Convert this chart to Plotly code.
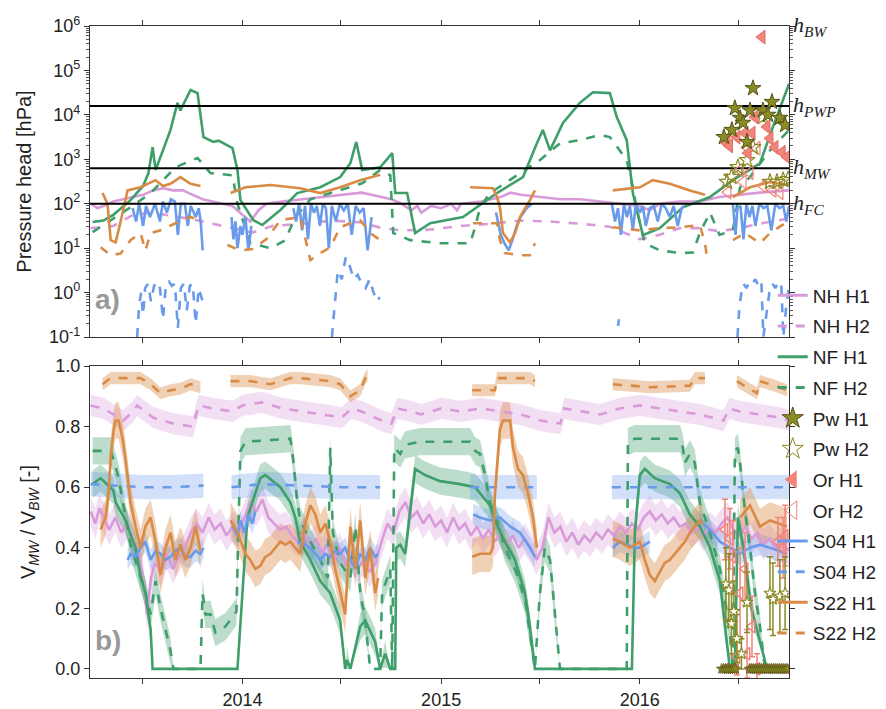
import plotly.graph_objects as go
from datetime import datetime, timedelta

# ---------------- DATA (time in decimal years) ----------------
X_START, X_END = "2013-03-27", "2016-10-01"
X_TICKS = ["2013-07-01", "2014-01-01", "2014-07-01", "2015-01-01", "2015-07-01", "2016-01-01", "2016-07-01"]
X_TICKTEXT = ["", "2014", "", "2015", "", "2016", ""]
Y_TOP_TICKS = [-1, 0, 1, 2, 3, 4, 5, 6]

# reference heads (pF = log10 hPa)
REF_PF = [2.0, 2.8, 4.2]
REF_LABELS = ["FC", "MW", "PWP", "BW"]
REF_LABEL_PF = [2.0, 2.8, 4.2, 6.0]

# ---- panel a): pressure head as pF ----
NH_H1_TOP = [(2013.236, 2.0), (2013.27, 1.9), (2013.30, 1.95), (2013.35, 2.05), (2013.40, 2.1), (2013.45, 2.15), (2013.50, 2.2),
             (2013.55, 2.3), (2013.60, 2.35), (2013.65, 2.3), (2013.70, 2.3), (2013.75, 2.2), (2013.80, 2.1), (2013.85, 2.05),
             (2013.90, 2.0), (2013.95, 1.95), (2014.00, 1.75), (2014.04, 1.6), (2014.08, 1.85), (2014.12, 2.0), (2014.20, 2.05),
             (2014.30, 2.1), (2014.40, 2.15), (2014.50, 2.2), (2014.60, 2.25), (2014.70, 2.15), (2014.75, 2.1), (2014.80, 2.0),
             (2014.85, 1.85), (2014.88, 1.95), (2014.90, 1.8), (2014.95, 1.95), (2015.00, 1.9), (2015.05, 2.0), (2015.08, 1.85),
             (2015.10, 2.0), (2015.20, 2.05), (2015.30, 2.15), (2015.35, 2.25), (2015.40, 2.2), (2015.50, 2.15), (2015.60, 2.1),
             (2015.70, 2.1), (2015.80, 2.05), (2015.90, 2.0), (2016.00, 1.95), (2016.05, 1.85), (2016.10, 2.0), (2016.20, 2.05),
             (2016.30, 2.05), (2016.40, 2.15), (2016.50, 2.2), (2016.60, 2.25), (2016.749, 2.3)]
NH_H2_TOP = [(2013.236, 1.45), (2013.35, 1.5), (2013.45, 1.75), (2013.55, 1.8), (2013.65, 1.72), (2013.75, 1.65), (2013.85, 1.55),
             (2013.95, 1.45), (2014.05, 1.35), (2014.15, 1.5), (2014.30, 1.55), (2014.45, 1.62), (2014.60, 1.58), (2014.70, 1.45),
             (2014.80, 1.4), (2014.95, 1.42), (2015.10, 1.5), (2015.25, 1.55), (2015.40, 1.62), (2015.55, 1.6), (2015.70, 1.55),
             (2015.85, 1.48), (2015.95, 1.3), (2016.00, 1.2), (2016.10, 1.3), (2016.20, 1.45), (2016.30, 1.45), (2016.40, 1.38),
             (2016.50, 1.45), (2016.60, 1.55), (2016.749, 1.67)]
NF_H1_TOP = [(2013.246, 1.59), (2013.30, 1.62), (2013.35, 1.75), (2013.437, 2.08), (2013.50, 2.4), (2013.527, 2.69), (2013.548, 3.27),
             (2013.563, 2.76), (2013.60, 3.2), (2013.638, 3.66), (2013.673, 4.27), (2013.688, 4.1), (2013.739, 4.56), (2013.774, 4.49),
             (2013.804, 3.5), (2013.854, 3.39), (2013.88, 3.42), (2013.95, 3.25), (2013.975, 2.76), (2013.990, 2.08), (2014.055, 1.63),
             (2014.100, 1.52), (2014.191, 1.86), (2014.276, 2.24), (2014.392, 2.37), (2014.492, 2.6), (2014.543, 2.91), (2014.573, 3.39),
             (2014.603, 2.76), (2014.693, 2.82), (2014.754, 3.14), (2014.769, 2.24), (2014.829, 2.24), (2014.869, 1.34), (2014.945, 1.56),
             (2015.110, 1.7), (2015.281, 2.24), (2015.412, 2.6), (2015.482, 3.36), (2015.512, 3.66), (2015.548, 3.2), (2015.613, 3.82),
             (2015.698, 4.27), (2015.764, 4.51), (2015.849, 4.49), (2015.884, 3.95), (2015.934, 3.43), (2015.965, 2.24), (2016.015, 1.29),
             (2016.100, 1.45), (2016.216, 1.92), (2016.352, 2.15), (2016.467, 2.53), (2016.603, 2.91), (2016.668, 3.73), (2016.749, 4.7)]
NF_H2_TOP = [(2013.246, 1.36), (2013.437, 1.92), (2013.538, 2.24), (2013.663, 2.82), (2013.774, 3.03), (2013.839, 2.69), (2013.950, 2.64),
             (2013.975, 2.0), (2014.040, 1.11), (2014.141, 1.0), (2014.216, 1.18), (2014.266, 1.7), (2014.342, 2.1), (2014.492, 2.3),
             (2014.603, 2.46), (2014.693, 2.76), (2014.744, 2.64), (2014.759, 1.34), (2014.844, 1.18), (2014.995, 1.11), (2015.146, 1.11),
             (2015.171, 1.47), (2015.196, 1.92), (2015.246, 2.24), (2015.397, 2.69), (2015.497, 2.98), (2015.598, 3.36), (2015.698, 3.43),
             (2015.799, 3.55), (2015.849, 3.5), (2015.899, 3.2), (2015.934, 2.98), (2015.965, 2.37), (2015.985, 1.86), (2016.025, 1.11),
             (2016.100, 0.95), (2016.201, 0.89), (2016.266, 0.9), (2016.301, 1.34), (2016.352, 1.8), (2016.40, 1.3), (2016.467, 1.4),
             (2016.503, 2.37), (2016.553, 2.6), (2016.653, 3.2), (2016.749, 3.66)]
S22_H1_TOP = [(2013.296, 2.24), (2013.321, 2.0), (2013.337, 1.18), (2013.362, 1.13), (2013.387, 1.6), (2013.422, 2.3), (2013.487, 2.37),
              (2013.563, 2.53), (2013.60, 2.4), (2013.638, 2.45), (2013.688, 2.6), (2013.739, 2.45), (2013.789, 2.4), None,
              (2013.940, 2.24), (2014.015, 2.37), (2014.141, 2.42), (2014.291, 2.35), (2014.392, 2.24), (2014.492, 2.37), (2014.593, 2.53),
              (2014.693, 2.65), None,
              (2015.146, 2.37), (2015.261, 2.35), (2015.281, 2.15), (2015.296, 1.92), (2015.311, 1.34), (2015.347, 1.13), (2015.372, 1.34),
              (2015.397, 1.7), (2015.447, 2.08), (2015.472, 2.3), None,
              (2015.864, 2.3), (2016.000, 2.37), (2016.065, 2.53), (2016.151, 2.45), (2016.251, 2.3), (2016.301, 2.24), (2016.327, 2.2), None,
              (2016.467, 2.15), (2016.553, 2.37), (2016.653, 2.49), (2016.749, 2.42)]
S22_H2_TOP = [(2013.286, 1.02), (2013.337, 0.84), (2013.387, 0.88), (2013.437, 1.18), (2013.487, 1.34), (2013.512, 0.95), (2013.538, 1.34),
              (2013.588, 1.4), (2013.663, 1.56), (2013.739, 1.7), (2013.789, 1.63), None,
              (2013.924, 1.07), (2013.990, 0.95), (2014.050, 0.98), (2014.120, 1.2), (2014.191, 1.63), (2014.291, 1.7), (2014.342, 0.73),
              (2014.392, 0.89), (2014.442, 1.02), (2014.492, 1.47), (2014.543, 1.56), (2014.593, 1.63), (2014.643, 1.34), (2014.693, 1.18), None,
              (2015.161, 1.56), (2015.281, 1.56), (2015.296, 1.18), (2015.321, 0.89), (2015.397, 0.84), (2015.447, 0.84), (2015.472, 1.11), None,
              (2015.864, 1.47), (2016.000, 1.4), (2016.100, 1.45), (2016.201, 1.47), (2016.301, 1.52), (2016.327, 1.11), (2016.337, 0.8), None,
              (2016.467, 1.18), (2016.528, 1.34), (2016.603, 1.11), (2016.653, 1.34), (2016.739, 1.59)]
S04_H1_TOP = [(2013.447, 1.9), (2013.465, 1.6), (2013.48, 2.0), (2013.50, 1.5), (2013.515, 1.95), (2013.535, 1.7), (2013.56, 2.0),
              (2013.585, 1.6), (2013.60, 2.05), (2013.62, 1.8), (2013.64, 2.1), (2013.66, 2.05), (2013.675, 1.3), (2013.69, 2.0),
              (2013.71, 2.0), (2013.725, 1.5), (2013.74, 1.95), (2013.765, 1.7), (2013.78, 1.9), (2013.79, 1.6), (2013.80, 0.95), None,
              (2013.945, 1.7), (2013.955, 1.2), (2013.965, 1.6), (2013.975, 1.0), (2013.99, 1.5), (2014.0, 1.3), (2014.015, 1.7),
              (2014.03, 0.95), (2014.045, 1.5), None,
              (2014.256, 1.9), (2014.27, 1.6), (2014.285, 2.0), (2014.30, 1.4), (2014.315, 1.95), (2014.33, 1.2), (2014.345, 2.0),
              (2014.36, 1.8), (2014.375, 1.95), (2014.39, 1.5), (2014.405, 2.0), (2014.42, 1.9), (2014.435, 1.0), (2014.45, 1.95),
              (2014.47, 1.6), (2014.49, 2.0), (2014.51, 1.85), (2014.53, 2.0), (2014.55, 1.3), (2014.57, 1.95), (2014.59, 1.8),
              (2014.61, 1.9), (2014.63, 0.95), (2014.65, 1.7), None,
              (2015.276, 1.8), (2015.30, 1.3), (2015.32, 1.1), (2015.34, 0.95), (2015.36, 1.2), (2015.38, 1.5), (2015.40, 1.7),
              (2015.43, 1.9), (2015.457, 2.0), None,
              (2015.859, 2.0), (2015.875, 1.6), (2015.89, 1.9), (2015.905, 1.3), (2015.92, 2.0), (2015.935, 1.7), (2015.95, 1.95),
              (2015.965, 1.4), (2015.98, 2.0), (2016.0, 1.8), (2016.015, 1.95), (2016.03, 1.5), (2016.05, 1.9), (2016.07, 1.95),
              (2016.09, 1.6), (2016.11, 2.0), (2016.13, 1.9), (2016.15, 1.7), (2016.17, 1.95), (2016.19, 1.5), (2016.21, 1.9),
              (2016.221, 1.95), None,
              (2016.467, 2.0), (2016.48, 1.3), (2016.49, 1.9), (2016.505, 1.95), (2016.52, 1.2), (2016.535, 2.0), (2016.55, 1.7),
              (2016.565, 1.95), (2016.58, 1.5), (2016.60, 2.0), (2016.62, 1.9), (2016.64, 1.95), (2016.66, 1.4), (2016.68, 2.0),
              (2016.70, 1.9), (2016.72, 1.95), (2016.735, 1.6), (2016.749, 1.95)]
S04_H2_TOP = [(2013.47, -1.0), (2013.48, -0.3), (2013.49, 0.0), (2013.50, -0.5), (2013.51, 0.1), (2013.525, 0.2), (2013.54, -0.2),
              (2013.555, 0.15), (2013.57, 0.25), (2013.585, 0.1), (2013.60, -0.6), (2013.615, 0.2), (2013.63, 0.25), (2013.645, 0.15),
              (2013.66, 0.2), (2013.675, -0.8), (2013.69, 0.1), (2013.705, 0.2), (2013.72, -0.4), (2013.735, 0.15), (2013.75, 0.2),
              (2013.765, -0.7), (2013.78, 0.1), (2013.80, -0.2), None,
              (2014.45, -1.0), (2014.46, -0.5), (2014.47, 0.0), (2014.48, 0.5), (2014.50, 0.3), (2014.52, 0.8), (2014.54, 0.6),
              (2014.56, 0.3), (2014.58, 0.4), (2014.60, 0.2), (2014.62, 0.1), (2014.64, 0.3), (2014.66, 0.0), (2014.68, -0.2),
              (2014.69, -0.1), None,
              (2015.89, -0.75), (2015.895, -0.6), None,
              (2016.49, -1.0), (2016.50, -0.3), (2016.51, 0.0), (2016.52, 0.2), (2016.535, 0.1), (2016.55, 0.25), (2016.565, 0.2),
              (2016.58, 0.3), (2016.595, 0.15), (2016.61, 0.25), (2016.62, -1.0), (2016.635, -0.5), (2016.65, 0.0), (2016.665, 0.2),
              (2016.68, 0.1), (2016.695, 0.25), (2016.71, 0.2), (2016.72, -1.0), (2016.735, -0.3), (2016.749, 0.15)]
PW_H1_TOP = [(2016.568, 4.6), (2016.477, 4.15), (2016.503, 3.93), (2016.518, 3.82), (2016.462, 3.66), (2016.422, 3.5), (2016.553, 4.1),
             (2016.618, 4.1), (2016.663, 4.29), (2016.643, 4.0), (2016.703, 3.93), (2016.729, 3.77), (2016.538, 3.39)]
PW_H2_TOP = [(2016.437, 2.49), (2016.492, 2.82), (2016.538, 2.98), (2016.568, 3.27), (2016.618, 3.95), (2016.653, 2.49), (2016.688, 2.49),
             (2016.719, 2.53), (2016.744, 2.55), (2016.46, 2.6)]
OR_H1_TOP = [(2016.613, 5.75), (2016.578, 3.95), (2016.638, 3.73), (2016.437, 3.36), (2016.487, 3.5), (2016.528, 3.59), (2016.563, 3.59),
             (2016.653, 3.47), (2016.678, 3.27), (2016.714, 3.16), (2016.739, 3.05), (2016.543, 3.14), (2016.45, 3.3)]
OR_H2_TOP = [(2016.538, 3.27), (2016.503, 2.76), (2016.553, 2.7), (2016.518, 2.49), (2016.442, 2.26), (2016.668, 2.3), (2016.703, 2.25),
             (2016.588, 3.25), (2016.62, 2.4)]

# ---- panel b): V_MW / V_BW ----
NH_H1_BOT = [(2013.236, 0.52), (2013.26, 0.48), (2013.28, 0.53), (2013.30, 0.50), (2013.33, 0.46), (2013.36, 0.50), (2013.39, 0.45),
             (2013.42, 0.48), (2013.45, 0.42), (2013.48, 0.38), (2013.50, 0.30), (2013.52, 0.18), (2013.54, 0.30), (2013.56, 0.35),
             (2013.59, 0.32), (2013.62, 0.38), (2013.65, 0.33), (2013.68, 0.37), (2013.71, 0.40), (2013.74, 0.45), (2013.77, 0.48),
             (2013.80, 0.45), (2013.83, 0.50), (2013.86, 0.46), (2013.89, 0.48), (2013.92, 0.44), (2013.95, 0.47), (2013.98, 0.45),
             (2014.01, 0.50), (2014.04, 0.55), (2014.07, 0.52), (2014.10, 0.56), (2014.13, 0.50), (2014.16, 0.48), (2014.19, 0.46),
             (2014.22, 0.47), (2014.25, 0.44), (2014.28, 0.42), (2014.31, 0.45), (2014.34, 0.40), (2014.37, 0.43), (2014.40, 0.38),
             (2014.43, 0.42), (2014.46, 0.36), (2014.49, 0.40), (2014.52, 0.34), (2014.55, 0.38), (2014.58, 0.33), (2014.61, 0.36),
             (2014.64, 0.32), (2014.67, 0.35), (2014.70, 0.42), (2014.73, 0.48), (2014.76, 0.45), (2014.79, 0.52), (2014.82, 0.55),
             (2014.85, 0.50), (2014.88, 0.52), (2014.91, 0.48), (2014.94, 0.51), (2014.97, 0.47), (2015.00, 0.49), (2015.03, 0.45),
             (2015.06, 0.50), (2015.09, 0.46), (2015.12, 0.48), (2015.15, 0.44), (2015.18, 0.47), (2015.21, 0.43), (2015.24, 0.46),
             (2015.27, 0.42), (2015.30, 0.45), (2015.33, 0.41), (2015.36, 0.44), (2015.39, 0.40), (2015.42, 0.43), (2015.45, 0.40),
             (2015.48, 0.36), (2015.51, 0.40), (2015.54, 0.50), (2015.57, 0.45), (2015.60, 0.47), (2015.63, 0.42), (2015.66, 0.45),
             (2015.69, 0.41), (2015.72, 0.44), (2015.75, 0.42), (2015.78, 0.45), (2015.81, 0.43), (2015.84, 0.46), (2015.87, 0.44),
             (2015.90, 0.47), (2015.93, 0.45), (2015.96, 0.48), (2015.99, 0.46), (2016.02, 0.50), (2016.05, 0.52), (2016.08, 0.49),
             (2016.11, 0.51), (2016.14, 0.48), (2016.17, 0.50), (2016.20, 0.47), (2016.23, 0.48), (2016.26, 0.45), (2016.29, 0.47),
             (2016.32, 0.44), (2016.35, 0.47), (2016.38, 0.45), (2016.41, 0.48), (2016.44, 0.50), (2016.47, 0.46), (2016.50, 0.44),
             (2016.53, 0.47), (2016.56, 0.43), (2016.59, 0.45), (2016.62, 0.41), (2016.65, 0.43), (2016.68, 0.40), (2016.71, 0.42),
             (2016.749, 0.39)]
NH_H2_BOT = [(2013.236, 0.87), (2013.30, 0.86), (2013.35, 0.84), (2013.40, 0.82), (2013.45, 0.85), (2013.47, 0.87), (2013.55, 0.83),
             (2013.65, 0.81), (2013.75, 0.80), (2013.78, 0.87), (2013.85, 0.86), (2013.95, 0.85), (2014.00, 0.87), (2014.10, 0.88),
             (2014.20, 0.86), (2014.30, 0.85), (2014.40, 0.84), (2014.50, 0.83), (2014.55, 0.86), (2014.60, 0.85), (2014.70, 0.82),
             (2014.75, 0.81), (2014.78, 0.86), (2014.85, 0.85), (2014.90, 0.84), (2015.00, 0.86), (2015.10, 0.85), (2015.20, 0.86),
             (2015.30, 0.85), (2015.40, 0.84), (2015.50, 0.82), (2015.60, 0.81), (2015.62, 0.86), (2015.70, 0.85), (2015.80, 0.84),
             (2015.90, 0.86), (2016.00, 0.87), (2016.10, 0.86), (2016.20, 0.85), (2016.30, 0.84), (2016.42, 0.82), (2016.45, 0.86),
             (2016.50, 0.85), (2016.60, 0.84), (2016.70, 0.83), (2016.749, 0.82)]
NF_H1_BOT = [(2013.246, 0.61), (2013.286, 0.63), (2013.35, 0.59), (2013.362, 0.55), (2013.412, 0.49), (2013.462, 0.40), (2013.487, 0.31),
             (2013.512, 0.25), (2013.538, 0.13), (2013.548, 0.0), (2013.975, 0.0), (2014.025, 0.50), (2014.065, 0.58), (2014.090, 0.63),
             (2014.115, 0.64), (2014.191, 0.60), (2014.241, 0.55), (2014.266, 0.50), (2014.291, 0.42), (2014.342, 0.36), (2014.392, 0.29),
             (2014.442, 0.25), (2014.492, 0.16), (2014.517, 0.0), (2014.527, 0.03), (2014.543, 0.0), (2014.593, 0.14), (2014.618, 0.16),
             (2014.668, 0.09), (2014.693, 0.0), (2014.718, 0.05), (2014.744, 0.0), (2014.769, 0.0), (2014.774, 0.40), (2014.794, 0.41),
             (2014.819, 0.38), (2014.844, 0.52), (2014.869, 0.66), (2014.919, 0.64), (2014.995, 0.62), (2015.095, 0.61), (2015.171, 0.60),
             (2015.196, 0.58), (2015.246, 0.54), (2015.271, 0.49), (2015.321, 0.42), (2015.372, 0.36), (2015.422, 0.25), (2015.447, 0.14),
             (2015.472, 0.0), (2015.960, 0.0), (2015.975, 0.45), (2016.000, 0.64), (2016.025, 0.66), (2016.075, 0.63), (2016.151, 0.61),
             (2016.201, 0.58), (2016.251, 0.51), (2016.301, 0.47), (2016.352, 0.40), (2016.402, 0.29), (2016.427, 0.14), (2016.452, 0.0),
             (2016.477, 0.0), (2016.492, 0.50), (2016.52, 0.40), (2016.56, 0.20), (2016.638, 0.0), (2016.749, 0.0)]
NF_H2_BOT = [(2013.246, 0.72), (2013.337, 0.72), (2013.352, 0.69), (2013.377, 0.63), (2013.437, 0.41), (2013.512, 0.25), (2013.538, 0.18),
             (2013.563, 0.29), (2013.588, 0.20), (2013.638, 0.06), (2013.653, 0.0), (2013.789, 0.0), (2013.799, 0.25), (2013.814, 0.18),
             (2013.839, 0.18), (2013.864, 0.12), (2013.889, 0.13), (2013.914, 0.14), (2013.950, 0.17), (2013.970, 0.19), (2013.980, 0.47),
             (2013.990, 0.72), (2014.015, 0.75), (2014.241, 0.76), (2014.256, 0.69), (2014.276, 0.55), (2014.291, 0.49), (2014.342, 0.42),
             (2014.392, 0.36), (2014.430, 0.30), (2014.442, 0.73), (2014.455, 0.45), (2014.492, 0.35), (2014.543, 0.30), (2014.568, 0.47),
             (2014.593, 0.25), (2014.618, 0.16), (2014.643, 0.0), (2014.693, 0.0), (2014.703, 0.25), (2014.744, 0.33), (2014.754, 0.0),
             (2014.764, 0.73), (2014.794, 0.71), (2014.819, 0.74), (2014.894, 0.75), (2015.146, 0.75), (2015.171, 0.72), (2015.196, 0.71),
             (2015.221, 0.64), (2015.246, 0.55), (2015.281, 0.49), (2015.321, 0.40), (2015.372, 0.33), (2015.422, 0.23), (2015.447, 0.12),
             (2015.472, 0.0), (2015.497, 0.25), (2015.522, 0.40), (2015.548, 0.36), (2015.573, 0.18), (2015.598, 0.0), (2015.934, 0.0),
             (2015.940, 0.75), (2015.975, 0.76), (2016.201, 0.76), (2016.216, 0.73), (2016.226, 0.68), (2016.251, 0.71), (2016.276, 0.68),
             (2016.301, 0.55), (2016.352, 0.45), (2016.402, 0.33), (2016.427, 0.23), (2016.452, 0.12), (2016.467, 0.0), (2016.477, 0.72),
             (2016.492, 0.73), (2016.503, 0.68), (2016.528, 0.52), (2016.553, 0.40), (2016.578, 0.25), (2016.603, 0.14), (2016.628, 0.0),
             (2016.749, 0.0)]
S04_H1_BOT = [(2013.422, 0.36), (2013.437, 0.38), (2013.462, 0.37), (2013.487, 0.40), (2013.512, 0.42), (2013.538, 0.36), (2013.563, 0.39),
              (2013.588, 0.38), (2013.613, 0.36), (2013.638, 0.37), (2013.663, 0.39), (2013.688, 0.40), (2013.713, 0.37), (2013.739, 0.37),
              (2013.764, 0.39), (2013.789, 0.38), (2013.804, 0.40), None,
              (2013.950, 0.47), (2013.975, 0.44), (2013.990, 0.49), (2014.010, 0.45), (2014.030, 0.51), (2014.050, 0.48), (2014.065, 0.52), None,
              (2014.276, 0.42), (2014.316, 0.41), (2014.342, 0.40), (2014.367, 0.38), (2014.392, 0.36), (2014.417, 0.38), (2014.442, 0.37),
              (2014.467, 0.39), (2014.492, 0.38), (2014.517, 0.40), (2014.543, 0.36), (2014.568, 0.33), (2014.593, 0.38), (2014.618, 0.36),
              (2014.643, 0.40), (2014.668, 0.37), (2014.683, 0.38), None,
              (2015.161, 0.51), (2015.196, 0.50), (2015.246, 0.49), (2015.296, 0.50), (2015.347, 0.47), (2015.397, 0.45), (2015.447, 0.40),
              (2015.472, 0.37), None,
              (2015.864, 0.40), (2015.899, 0.42), (2015.934, 0.41), (2015.975, 0.40), (2016.000, 0.40), (2016.050, 0.42), None,
              (2016.301, 0.49), (2016.352, 0.46), (2016.402, 0.42), (2016.452, 0.40), (2016.503, 0.38), (2016.553, 0.40), (2016.603, 0.41),
              (2016.653, 0.40), (2016.739, 0.38)]
S04_H2_BOT = [(2013.236, 0.61), (2013.35, 0.605), (2013.50, 0.60), (2013.65, 0.60), (2013.804, 0.605), None,
              (2013.945, 0.60), (2014.10, 0.61), (2014.30, 0.605), (2014.50, 0.60), (2014.693, 0.60), None,
              (2015.146, 0.60), (2015.30, 0.60), (2015.482, 0.60), None,
              (2015.859, 0.60), (2016.10, 0.60), (2016.40, 0.60), (2016.749, 0.60)]
S22_H1_BOT = [(2013.286, 0.46), (2013.311, 0.50), (2013.327, 0.58), (2013.337, 0.70), (2013.352, 0.79), (2013.362, 0.82), (2013.377, 0.82),
              (2013.397, 0.76), (2013.412, 0.69), (2013.437, 0.55), (2013.462, 0.47), (2013.487, 0.40), (2013.512, 0.47), (2013.538, 0.50),
              (2013.563, 0.42), (2013.588, 0.31), (2013.613, 0.40), (2013.638, 0.45), (2013.663, 0.36), (2013.688, 0.41), (2013.713, 0.36),
              (2013.739, 0.40), (2013.764, 0.47), (2013.789, 0.39), None,
              (2013.940, 0.49), (2013.975, 0.45), (2014.015, 0.38), (2014.040, 0.36), (2014.065, 0.33), (2014.090, 0.34), (2014.115, 0.37),
              (2014.141, 0.38), (2014.166, 0.40), (2014.191, 0.42), (2014.216, 0.41), (2014.241, 0.42), (2014.266, 0.40), (2014.291, 0.38),
              (2014.316, 0.48), (2014.342, 0.54), (2014.367, 0.51), (2014.392, 0.45), (2014.417, 0.48), (2014.442, 0.42), (2014.467, 0.33),
              (2014.492, 0.25), (2014.517, 0.18), (2014.543, 0.47), (2014.568, 0.33), (2014.593, 0.49), (2014.618, 0.30), (2014.643, 0.40),
              (2014.668, 0.25), (2014.683, 0.30), None,
              (2015.156, 0.37), (2015.196, 0.38), (2015.246, 0.38), (2015.261, 0.40), (2015.271, 0.58), (2015.296, 0.79), (2015.311, 0.82),
              (2015.347, 0.82), (2015.362, 0.73), (2015.387, 0.66), (2015.412, 0.64), (2015.437, 0.58), (2015.462, 0.50), (2015.482, 0.40), None,
              (2015.864, 0.43), (2015.899, 0.42), (2015.950, 0.40), (2016.000, 0.42), (2016.025, 0.36), (2016.050, 0.31), (2016.075, 0.29),
              (2016.100, 0.32), (2016.125, 0.35), (2016.151, 0.36), (2016.176, 0.38), (2016.201, 0.40), (2016.226, 0.42), (2016.251, 0.45),
              (2016.276, 0.47), (2016.301, 0.49), (2016.316, 0.48), None,
              (2016.503, 0.50), (2016.553, 0.54), (2016.603, 0.47), (2016.653, 0.49), (2016.739, 0.47)]
S22_H2_BOT = [(2013.296, 0.94), (2013.337, 0.96), (2013.487, 0.96), (2013.538, 0.94), (2013.588, 0.91), (2013.638, 0.92), (2013.688, 0.925),
              (2013.739, 0.94), (2013.789, 0.93), None,
              (2013.940, 0.95), (2014.040, 0.95), (2014.141, 0.94), (2014.241, 0.96), (2014.291, 0.96), (2014.442, 0.95), (2014.492, 0.94),
              (2014.543, 0.90), (2014.593, 0.92), (2014.618, 0.96), (2014.630, 0.97), None,
              (2015.156, 0.92), (2015.271, 0.92), (2015.281, 0.96), (2015.447, 0.96), (2015.472, 0.95), None,
              (2015.864, 0.94), (2016.050, 0.93), (2016.251, 0.935), (2016.276, 0.96), (2016.327, 0.96), None,
              (2016.487, 0.95), (2016.538, 0.93), (2016.588, 0.91), (2016.603, 0.95), (2016.678, 0.935), (2016.739, 0.92)]
# uncertainty half-widths of the shaded bands
BAND = {"NH H1": 0.05, "NH H2": 0.035, "NF H1": 0.045, "NF H2": 0.045, "S04 H1": 0.035, "S04 H2": 0.04, "S22 H1": 0.06, "S22 H2": 0.02}

# point measurements in panel b): (time, value, error)
PW_H2_BOT = [(2016.432, 0.28, 0.12), (2016.447, 0.26, 0.12), (2016.46, 0.15, 0.10), (2016.472, 0.19, 0.10), (2016.487, 0.10, 0.08),
             (2016.51, 0.05, 0.05), (2016.538, 0.22, 0.10), (2016.653, 0.25, 0.12), (2016.668, 0.23, 0.12), (2016.703, 0.24, 0.12),
             (2016.729, 0.25, 0.12)]
OR_H2_BOT = [(2016.427, 0.46, 0.10), (2016.452, 0.43, 0.10), (2016.467, 0.37, 0.12), (2016.528, 0.33, 0.12), (2016.503, 0.25, 0.15),
             (2016.563, 0.14, 0.10), (2016.538, 0.05, 0.08), (2016.487, 0.04, 0.06), (2016.588, 0.0, 0.05), (2016.693, 0.42, 0.08),
             (2016.719, 0.40, 0.10), (2016.729, 0.44, 0.10)]
PW_H1_BOT_T = [2016.41, 2016.42, 2016.43, 2016.44, 2016.45, 2016.46, 2016.47, 2016.48, 2016.55, 2016.56, 2016.57, 2016.58, 2016.59,
               2016.60, 2016.61, 2016.62, 2016.63, 2016.64, 2016.65, 2016.66, 2016.67, 2016.68, 2016.69, 2016.70, 2016.71, 2016.72,
               2016.73, 2016.74]
PW_H1_BOT_V = [0.0, 0.0, 0.0, 0.0, 0.0, 0.0, 0.0, 0.0, 0.0, 0.0, 0.0, 0.0, 0.0, 0.0, 0.0, 0.0, 0.0, 0.0, 0.0, 0.0, 0.0, 0.0, 0.0, 0.0,
               0.0, 0.0, 0.0, 0.0]
OR_H1_BOT_T = [2016.415, 2016.425, 2016.435, 2016.445, 2016.455, 2016.465, 2016.475, 2016.485, 2016.545, 2016.555, 2016.565, 2016.575,
               2016.595, 2016.605, 2016.615, 2016.625, 2016.635, 2016.645, 2016.655, 2016.665, 2016.675, 2016.685, 2016.695, 2016.705,
               2016.715, 2016.725, 2016.735, 2016.745]
OR_H1_BOT_V = [0.0, 0.0, 0.0, 0.0, 0.0, 0.0, 0.0, 0.0, 0.0, 0.0, 0.0, 0.0, 0.0, 0.0, 0.0, 0.0, 0.0, 0.0, 0.0, 0.0, 0.0, 0.0, 0.0, 0.0,
               0.0, 0.0, 0.0, 0.0]

# ---------------- STYLE ----------------
COL = {"NH": "#D99AD9", "NF": "#3E9F6B", "Pw": "#8B8B25", "Or": "#F28479", "S04": "#6A9BEA", "S22": "#D98B45"}
FILL = {"NH": "rgba(217,154,217,0.32)", "NF": "rgba(62,159,107,0.35)", "S04": "rgba(106,155,234,0.30)", "S22": "rgba(217,139,69,0.40)"}
FONT = "Liberation Sans, Arial, sans-serif"


def dy(t):
    y = int(t)
    start = datetime(y, 1, 1)
    days = (datetime(y + 1, 1, 1) - start).days
    return start + timedelta(days=(t - y) * days)


def xy(pairs, log=False):
    xs, ys = [], []
    for p in pairs:
        if p is None:
            xs.append(None); ys.append(None)
        else:
            xs.append(dy(p[0])); ys.append(10 ** p[1] if log else p[1])
    return xs, ys


def segments(pairs):
    out = [[]]
    for p in pairs:
        if p is None:
            out.append([])
        else:
            out[-1].append(p)
    return [s for s in out if s]


fig = go.Figure()
TOP = dict(xaxis="x", yaxis="y")
BOT = dict(xaxis="x2", yaxis="y2")

# bands (panel b); no band where the value sits at zero
for name, data, key in [("NH H1", NH_H1_BOT, "NH"), ("NH H2", NH_H2_BOT, "NH"), ("NF H1", NF_H1_BOT, "NF"),
                        ("NF H2", NF_H2_BOT, "NF"), ("S04 H1", S04_H1_BOT, "S04"), ("S04 H2", S04_H2_BOT, "S04"),
                        ("S22 H1", S22_H1_BOT, "S22"), ("S22 H2", S22_H2_BOT, "S22")]:
    e = BAND[name]
    for seg in segments(data):
        xs = [dy(t) for t, v in seg] + [dy(t) for t, v in reversed(seg)]
        ys = ([min(v + e, 1.0) if v > 0 else 0.0 for t, v in seg] +
              [max(v - e, 0.0) for t, v in reversed(seg)])
        fig.add_trace(go.Scatter(x=xs, y=ys, fill="toself", fillcolor=FILL[key], line=dict(width=0),
                                 mode="lines", hoverinfo="skip", showlegend=False, **BOT))

LW = 2.6
series = [("NH H1", "NH", "solid", NH_H1_TOP, NH_H1_BOT), ("NH H2", "NH", "dash", NH_H2_TOP, NH_H2_BOT),
          ("NF H1", "NF", "solid", NF_H1_TOP, NF_H1_BOT), ("NF H2", "NF", "dash", NF_H2_TOP, NF_H2_BOT),
          ("S04 H1", "S04", "solid", S04_H1_TOP, S04_H1_BOT), ("S04 H2", "S04", "dash", S04_H2_TOP, S04_H2_BOT),
          ("S22 H1", "S22", "solid", S22_H1_TOP, S22_H1_BOT), ("S22 H2", "S22", "dash", S22_H2_TOP, S22_H2_BOT)]
for name, key, dash, top, bot in series:
    x, y = xy(top, log=True)
    fig.add_trace(go.Scatter(x=x, y=y, mode="lines", line=dict(color=COL[key], width=LW, dash=dash),
                             connectgaps=False, showlegend=False, **TOP))
    x, y = xy(bot)
    fig.add_trace(go.Scatter(x=x, y=y, mode="lines", line=dict(color=COL[key], width=LW, dash=dash),
                             connectgaps=False, showlegend=False, **BOT))

# reference head lines
for pf in REF_PF:
    fig.add_trace(go.Scatter(x=[X_START, X_END], y=[10 ** pf, 10 ** pf], mode="lines",
                             line=dict(color="black", width=2), showlegend=False, **TOP))

# point measurements, panel a
for data, sym, key, lc in [(OR_H2_TOP, "triangle-left-open", "Or", None), (PW_H2_TOP, "star-open", "Pw", None),
                           (OR_H1_TOP, "triangle-left", "Or", "#E06A60"), (PW_H1_TOP, "star", "Pw", "#55551A")]:
    x, y = xy(data, log=True)
    fig.add_trace(go.Scatter(x=x, y=y, mode="markers", showlegend=False,
                             marker=dict(symbol=sym, size=12, color=COL[key],
                                         line=dict(color=lc or COL[key], width=1 if lc else 1.2)), **TOP))

# point measurements, panel b
fig.add_trace(go.Scatter(x=[dy(t) for t, v, e in OR_H2_BOT], y=[v for t, v, e in OR_H2_BOT], mode="markers",
                         error_y=dict(type="data", array=[e for t, v, e in OR_H2_BOT], color=COL["Or"], thickness=1.5, width=3),
                         marker=dict(symbol="triangle-left-open", size=11, color=COL["Or"], line=dict(width=1.5)),
                         showlegend=False, **BOT))
fig.add_trace(go.Scatter(x=[dy(t) for t, v, e in PW_H2_BOT], y=[v for t, v, e in PW_H2_BOT], mode="markers",
                         error_y=dict(type="data", array=[e for t, v, e in PW_H2_BOT], color=COL["Pw"], thickness=1.5, width=3),
                         marker=dict(symbol="star", size=9, color="white", line=dict(color=COL["Pw"], width=1.2)),
                         showlegend=False, **BOT))
fig.add_trace(go.Scatter(x=[dy(t) for t in OR_H1_BOT_T], y=OR_H1_BOT_V, mode="markers", showlegend=False,
                         marker=dict(symbol="triangle-left", size=8, color=COL["Or"], line=dict(color="#C0564D", width=0.8)), **BOT))
fig.add_trace(go.Scatter(x=[dy(t) for t in PW_H1_BOT_T], y=PW_H1_BOT_V, mode="markers", showlegend=False,
                         marker=dict(symbol="star", size=8, color=COL["Pw"], line=dict(color="#55551A", width=0.6)), **BOT))

# legend entries
legend_items = [("NH H1", dict(mode="lines", line=dict(color=COL["NH"], width=3))),
                ("NH H2", dict(mode="lines", line=dict(color=COL["NH"], width=3, dash="dash"))),
                ("NF H1", dict(mode="lines", line=dict(color=COL["NF"], width=3))),
                ("NF H2", dict(mode="lines", line=dict(color=COL["NF"], width=3, dash="dash"))),
                ("Pw H1", dict(mode="markers", marker=dict(symbol="star", size=16, color=COL["Pw"], line=dict(color="#55551A", width=1)))),
                ("Pw H2", dict(mode="markers", marker=dict(symbol="star-open", size=16, color=COL["Pw"], line=dict(width=1)))),
                ("Or H1", dict(mode="markers", marker=dict(symbol="triangle-left", size=16, color=COL["Or"]))),
                ("Or H2", dict(mode="markers", marker=dict(symbol="triangle-left-open", size=16, color=COL["Or"], line=dict(width=1)))),
                ("S04 H1", dict(mode="lines", line=dict(color=COL["S04"], width=3))),
                ("S04 H2", dict(mode="lines", line=dict(color=COL["S04"], width=3, dash="dash"))),
                ("S22 H1", dict(mode="lines", line=dict(color=COL["S22"], width=3))),
                ("S22 H2", dict(mode="lines", line=dict(color=COL["S22"], width=3, dash="dash")))]
for i, (name, kw) in enumerate(legend_items):
    fig.add_trace(go.Scatter(x=[None], y=[None], name=name, legendgroup=name, showlegend=True, legendrank=i + 1,
                             **kw, **BOT))

AX = dict(showline=True, linecolor="#333", linewidth=1.3, mirror="allticks", ticks="outside", ticklen=5,
          tickcolor="#333", showgrid=False, zeroline=False, automargin=False,
          tickfont=dict(family=FONT, size=18, color="#222"))

# the page body adds an 8px offset, so the figure is sized 8px smaller than the window
fig.update_layout(
    width=878, height=701, paper_bgcolor="white", plot_bgcolor="white",
    margin=dict(l=82, r=97, t=18, b=31, autoexpand=False),
    font=dict(family=FONT, color="#222"),
    xaxis=dict(**AX, domain=[0, 1], anchor="y", type="date", range=[X_START, X_END], tickvals=X_TICKS,
               ticktext=["" for _ in X_TICKS], showticklabels=False),
    xaxis2=dict(**AX, domain=[0, 1], anchor="y2", type="date", range=[X_START, X_END], matches="x", tickvals=X_TICKS,
                ticktext=X_TICKTEXT),
    yaxis=dict(**AX, domain=[0.523, 1.0], type="log", range=[-1, 6], tickvals=[10 ** k for k in Y_TOP_TICKS],
               ticktext=["10<sup>%d</sup>" % k for k in Y_TOP_TICKS],
               minor=dict(ticks="outside", ticklen=3, tickcolor="#555", dtick="D1", showgrid=False),
               title=dict(text="Pressure head [hPa]", font=dict(family=FONT, size=20), standoff=12)),
    yaxis2=dict(**AX, domain=[0.0, 0.4785], range=[-0.03, 1.0], dtick=0.2, tick0=0, tickformat=".1f",
                title=dict(text="V<sub><i>MW</i></sub> / V<sub><i>BW</i></sub> [-]", font=dict(family=FONT, size=20), standoff=14)),
    legend=dict(xref="container", yref="container", x=0.871, y=0.617, xanchor="left", yanchor="top",
                font=dict(family=FONT, size=19, color="#222"), maxheight=460,
                bgcolor="rgba(0,0,0,0)", itemwidth=30, tracegroupgap=3, traceorder="grouped"),
    showlegend=True,
)

ann = []
for lab, pf in zip(REF_LABELS, REF_LABEL_PF):
    ann.append(dict(x=1.0, xref="x domain", y=pf, yref="y", xanchor="left", yanchor="middle", xshift=2, showarrow=False,
                    text="<i>h</i><sub><i>%s</i></sub>" % lab, font=dict(family="Liberation Serif, serif", size=22, color="#222")))
ann.append(dict(x=0.005, xref="x domain", y=0.12, yref="y domain", text="<b>a)</b>", showarrow=False,
                xanchor="left", yanchor="middle", font=dict(family=FONT, size=28, color="#999")))
ann.append(dict(x=0.005, xref="x2 domain", y=0.12, yref="y2 domain", text="<b>b)</b>", showarrow=False,
                xanchor="left", yanchor="middle", font=dict(family=FONT, size=28, color="#999")))
fig.update_layout(annotations=ann)

fig.write_html("out.html")
